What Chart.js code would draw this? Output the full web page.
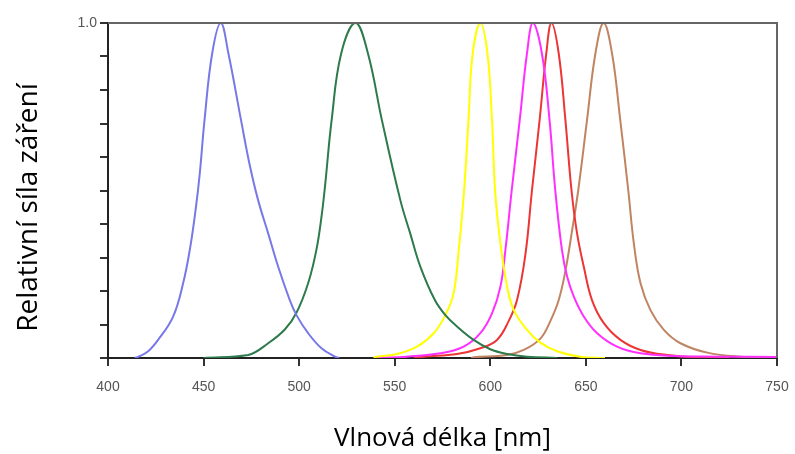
<!DOCTYPE html>
<html>
<head>
<meta charset="utf-8">
<script src="https://cdn.jsdelivr.net/npm/chart.js@4"></script>
<style>
  html, body { margin: 0; padding: 0; background: #fff; }
  #wrap { width: 795px; height: 454px; }
</style>
</head>
<body>
<div id="wrap"><canvas id="spectrum"></canvas></div>
<script>
// wavelengths (nm) and relative intensity
const blueNm = [414, 416, 421, 426.2, 434, 439.3, 443, 446, 448, 450.5, 454.5, 459, 463, 469.6, 474, 478.5, 483.8, 489, 495.1, 498.6, 504.7, 511.7, 518.7, 521];
const blueVal = [0, 0.004, 0.02, 0.054, 0.123, 0.223, 0.33, 0.45, 0.55, 0.71, 0.909, 1, 0.909, 0.71, 0.58, 0.472, 0.372, 0.273, 0.173, 0.128, 0.074, 0.029, 0.004, 0];

const greenNm = [450, 473.3, 483.8, 492.5, 498.6, 504.7, 509, 511.7, 513.5, 517, 522, 529.5, 536, 543.3, 552.9, 558.1, 563.4, 571, 576.5, 582.6, 591.3, 600, 608.8, 619.2, 635];
const greenVal = [0, 0.009, 0.044, 0.085, 0.135, 0.223, 0.322, 0.422, 0.511, 0.71, 0.909, 1, 0.909, 0.71, 0.472, 0.372, 0.273, 0.173, 0.128, 0.094, 0.054, 0.026, 0.012, 0.004, 0];

const yellowNm = [539, 540.7, 551.2, 561.6, 570.4, 576.5, 580.8, 583.5, 586.3, 588.6, 590.8, 594.8, 598.5, 600.9, 602.5, 605.3, 608.8, 612.3, 619.2, 626.2, 635, 647, 660];
const yellowVal = [0, 0.004, 0.012, 0.034, 0.074, 0.128, 0.193, 0.322, 0.5, 0.71, 0.909, 1, 0.909, 0.71, 0.5, 0.342, 0.213, 0.143, 0.084, 0.046, 0.02, 0.004, 0];

const magentaNm = [541, 556.4, 573.9, 586.1, 594.8, 600.9, 605.3, 607.9, 611.2, 615.4, 619.2, 622.3, 627, 631, 634, 637.5, 640.2, 643.7, 648.9, 655.9, 666.3, 678.6, 696, 720, 750];
const magentaVal = [0, 0.004, 0.014, 0.034, 0.074, 0.133, 0.213, 0.322, 0.5, 0.71, 0.909, 1, 0.909, 0.71, 0.5, 0.322, 0.243, 0.183, 0.124, 0.074, 0.034, 0.014, 0.006, 0.004, 0.003];

const redNm = [560, 565.1, 582.6, 594.8, 603.5, 609.6, 614, 618.4, 621.8, 625.8, 629.3, 632, 635.8, 639.3, 642.5, 645.4, 648.9, 653.2, 659.4, 668.1, 678.6, 692.5, 710, 725];
const redVal = [0, 0.004, 0.012, 0.029, 0.054, 0.11, 0.173, 0.31, 0.5, 0.71, 0.909, 1, 0.909, 0.71, 0.5, 0.372, 0.273, 0.173, 0.104, 0.054, 0.024, 0.009, 0.002, 0];

const brownNm = [590, 591.3, 608.8, 617.5, 626.2, 631.4, 635.8, 639.3, 642.5, 646, 650.6, 655, 659.3, 663.7, 668, 672.2, 675.1, 678.6, 683.8, 690.8, 699.5, 713.5, 730.9, 750];
const brownVal = [0, 0.002, 0.009, 0.024, 0.058, 0.11, 0.173, 0.26, 0.37, 0.5, 0.71, 0.909, 1, 0.909, 0.71, 0.5, 0.342, 0.223, 0.143, 0.084, 0.044, 0.016, 0.004, 0.001];

const xTicks = [400, 450, 500, 550, 600, 650, 700, 750];
const yLabel = 'Relativní síla záření';
const xLabel = 'Vlnová délka [nm]';

function toPoints(nm, val) {
  return nm.map((x, i) => ({ x: x, y: val[i] }));
}

function line(nm, val, color) {
  return {
    data: toPoints(nm, val),
    borderColor: color,
    borderWidth: 2,
    pointRadius: 0,
    fill: false,
    tension: 0.4
  };
}

// grey frame on top and right, plus the rotated y title
const frame = {
  id: 'frame',
  afterDatasetsDraw(chart) {
    const a = chart.chartArea;
    const ctx = chart.ctx;
    ctx.save();
    ctx.strokeStyle = '#666';
    ctx.lineWidth = 2;
    ctx.beginPath();
    ctx.moveTo(a.left, a.top);
    ctx.lineTo(a.right, a.top);
    ctx.lineTo(a.right, a.bottom);
    ctx.stroke();

    // y title sits a bit lower than the plot middle in the original
    ctx.translate(37, (a.top + a.bottom) / 2 + 17);
    ctx.rotate(-Math.PI / 2);
    ctx.fillStyle = '#000';
    ctx.font = '28px "Open Sans"';
    ctx.textAlign = 'center';
    ctx.textBaseline = 'alphabetic';
    ctx.fillText(yLabel, 0, 0);
    ctx.restore();
  }
};

const ctx = document.getElementById('spectrum').getContext('2d');
new Chart(ctx, {
  type: 'line',
  data: {
    datasets: [
      line(blueNm, blueVal, '#7878e8'),
      line(greenNm, greenVal, '#2d7a4c'),
      line(yellowNm, yellowVal, '#ffff00'),
      line(magentaNm, magentaVal, '#ff30ff'),
      line(redNm, redVal, '#ec3535'),
      line(brownNm, brownVal, '#c08462')
    ]
  },
  options: {
    responsive: true,
    maintainAspectRatio: false,
    animation: false,
    layout: { padding: { top: 23, right: 18, left: 0, bottom: 0 } },
    plugins: {
      legend: { display: false },
      tooltip: { enabled: false }
    },
    scales: {
      x: {
        type: 'linear',
        min: 400,
        max: 750,
        afterFit: scale => {
          scale.height = 96;
          scale.paddingLeft = 0;
          scale.paddingRight = 0;
        },
        afterBuildTicks: scale => { scale.ticks = xTicks.map(v => ({ value: v })); },
        ticks: {
          color: '#555',
          font: { family: 'Liberation Sans', size: 14 },
          padding: 13,
          maxRotation: 0
        },
        grid: { drawOnChartArea: false, tickLength: 8, color: '#333', lineWidth: 2 },
        border: { color: '#222', width: 2 },
        title: {
          display: true,
          text: xLabel,
          color: '#000',
          font: { family: 'Open Sans', size: 26 },
          padding: { top: 0, bottom: 0 }
        }
      },
      y: {
        min: 0,
        max: 1,
        afterFit: scale => {
          scale.width = 108;
          scale.paddingTop = 0;
          scale.paddingBottom = 0;
        },
        ticks: {
          stepSize: 0.1,
          color: '#555',
          font: { family: 'Liberation Sans', size: 14 },
          padding: 3,
          callback: v => (Math.abs(v - 1) < 1e-6 ? '1.0' : '')
        },
        grid: { drawOnChartArea: false, tickLength: 8, color: '#333', lineWidth: 2 },
        border: { color: '#222', width: 2 }
      }
    }
  },
  plugins: [frame]
});
</script>
</body>
</html>
